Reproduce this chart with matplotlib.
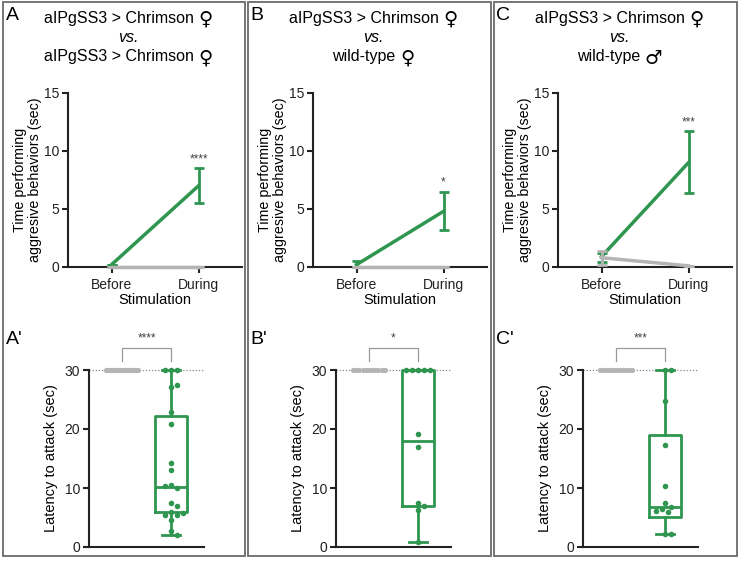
import matplotlib
matplotlib.use("Agg")
import matplotlib.pyplot as plt
import numpy as np
from matplotlib.patches import Rectangle

plt.rcParams['font.family'] = ['Liberation Sans', 'DejaVu Sans']

GREEN = '#2f9650'
GRAY = '#b4b4b4'
AXC = '#222222'

W, H = 741, 561

letters = ['A', 'B', 'C']
title_top = ('aIPgSS3 > Chrimson ', '\u2640')
title_bottom = [('aIPgSS3 > Chrimson ', '\u2640'), ('wild-type ', '\u2640'), ('wild-type ', '\u2642')]
conditions = ['Before', 'During']

# top row: mean time (sec) and error bar ends
chr_mean = [[0.2, 7.0], [0.2, 4.8], [0.9, 9.0]]
chr_lo = [[0.2, 5.5], [0.0, 3.2], [0.4, 6.4]]
chr_hi = [[0.2, 8.5], [0.5, 6.5], [1.2, 11.7]]
ctl_mean = [[0.0, 0.0], [0.0, 0.0], [0.8, 0.1]]
ctl_lo = [[0.0, 0.0], [0.0, 0.0], [0.2, 0.1]]
ctl_hi = [[0.0, 0.0], [0.0, 0.0], [1.4, 0.1]]
top_stars = ['****', '*', '***']

# bottom row: latency to attack (sec)
before_latency = [[30] * 21, [30] * 11, [30] * 12]
during_latency = [
    [30, 30, 30, 27.2, 27.5, 22.8, 20.8, 14.3, 13.1, 10.5, 10.0, 10.4,
     7.5, 7.0, 6.0, 5.5, 5.5, 5.7, 4.6, 2.7, 2.0],
    [30, 30, 30, 30, 30, 19.1, 17.0, 7.4, 7.0, 6.2, 0.9],
    [30, 30, 24.7, 17.3, 10.4, 7.4, 6.8, 6.4, 6.1, 5.9, 2.2, 2.2],
]
box_q1 = [6.0, 7.0, 5.1]
box_med = [10.2, 18.0, 6.8]
box_q3 = [22.2, 30.0, 19.0]
box_lo = [2.0, 0.9, 2.2]
box_hi = [30, 30, 30]
bottom_stars = ['****', '*', '***']


def swarm(vals, xs=49.0, ys=5.9, d=6.0):
    placed = []
    offs = []
    cands = [0]
    for i in range(1, 40):
        cands += [i, -i]
    for v in vals:
        for c in cands:
            x = c * 0.5 * d
            if all((x - px) ** 2 + ((v - py) * ys) ** 2 >= d * d for px, py in placed):
                break
        placed.append((x, v))
        offs.append(x / xs)
    return np.array(offs)


def add_ax(fig, left, top, right, bottom):
    return fig.add_axes([left / W, 1 - bottom / H, (right - left) / W, (bottom - top) / H])


def style(ax):
    for s in ['top', 'right']:
        ax.spines[s].set_visible(False)
    for s in ['left', 'bottom']:
        ax.spines[s].set_color(AXC)
        ax.spines[s].set_linewidth(1.5)
    ax.tick_params(colors=AXC, width=1.5, length=4, labelsize=10, pad=2.5)


def title_line(fig, renderer, cx, y, parts):
    # text plus a larger sex symbol, centred together at cx
    t1 = fig.text(0, 1 - y / H, parts[0], ha='left', va='center', fontsize=11.5)
    t2 = fig.text(0, 1 - y / H, parts[1], ha='left', va='center', fontsize=14,
                  family='DejaVu Sans')
    w1 = t1.get_window_extent(renderer).width
    w2 = t2.get_window_extent(renderer).width
    x0 = cx - (w1 + w2) / 2
    t1.set_x(x0 / W)
    t2.set_x((x0 + w1) / W)
    t2.set_y(1 - (y + 1) / H)


fig = plt.figure(figsize=(W / 100, H / 100), dpi=100)
renderer = fig.canvas.get_renderer()

frames = [(3, 245), (248, 491), (494, 737)]
for i in range(3):
    l, r = frames[i]
    fig.add_artist(Rectangle((l / W, 1 - 556 / H), (r - l) / W, 554 / H,
                             transform=fig.transFigure, fill=False,
                             ec='#6a6a6a', lw=1.3))
    cx = (l + r) / 2 + 4
    title_line(fig, renderer, cx, 18, title_top)
    fig.text(cx / W, 1 - 38 / H, 'vs.', ha='center', va='center', fontsize=11.5, style='italic')
    title_line(fig, renderer, cx, 57, title_bottom[i])
    fig.text((l + 9) / W, 1 - 15 / H, letters[i], ha='center', va='center', fontsize=14)
    fig.text((l + 11) / W, 1 - 339 / H, letters[i] + "'", ha='center', va='center', fontsize=14)

    # top: time performing aggressive behaviours
    off = 245 * i
    ax = add_ax(fig, 68 + off, 93, 242 + off, 267)
    style(ax)
    x = np.arange(2)
    m = np.array(chr_mean[i])
    ax.errorbar(x, m, yerr=[m - np.array(chr_lo[i]), np.array(chr_hi[i]) - m],
                color=GREEN, lw=2.5, elinewidth=2, capsize=3.5, capthick=2,
                clip_on=False, zorder=3)
    m2 = np.array(ctl_mean[i])
    ax.errorbar(x, m2, yerr=[m2 - np.array(ctl_lo[i]), np.array(ctl_hi[i]) - m2],
                color=GRAY, lw=2.5, elinewidth=2, capsize=3.5, capthick=2,
                clip_on=False, zorder=4)
    ax.text(1, chr_hi[i][1] + 0.8, top_stars[i], ha='center', va='center',
            fontsize=8.5, color='#444444')
    ax.set_xlim(-0.5, 1.5)
    ax.set_ylim(0, 15)
    ax.set_yticks([0, 5, 10, 15])
    ax.set_xticks(x)
    ax.set_xticklabels(conditions)
    ax.tick_params(axis='x', pad=4)
    ax.set_xlabel('Stimulation', fontsize=10.5, labelpad=1)
    ax.set_ylabel('Time performing\naggresive behaviors (sec)', fontsize=10.3,
                  linespacing=1.1)
    ax.yaxis.set_label_coords(-0.15, 0.5)

    # bottom: latency to attack
    off = 247 * i
    bx = add_ax(fig, 89 + off, 370, 204 + off, 547)
    style(bx)
    bx.axhline(30, color='#888888', ls=(0, (1, 1.5)), lw=0.9, zorder=1)
    bx.bxp([dict(med=box_med[i], q1=box_q1[i], q3=box_q3[i],
                 whislo=box_lo[i], whishi=box_hi[i])],
           positions=[1], widths=0.65, capwidths=[0.37], showfliers=False,
           boxprops=dict(color=GREEN, lw=2),
           medianprops=dict(color=GREEN, lw=2),
           whiskerprops=dict(color=GREEN, lw=2),
           capprops=dict(color=GREEN, lw=2), manage_ticks=False)
    for art in bx.lines:
        art.set_clip_on(False)
    g = np.array(before_latency[i])
    bx.scatter(np.linspace(-0.32, 0.32, len(g)), g, s=14, color=GRAY,
               zorder=3, clip_on=False, lw=0)
    d = np.array(during_latency[i])
    bx.scatter(1 + swarm(d), d, s=16, color=GREEN, zorder=3, clip_on=False, lw=0)
    bx.plot([0, 0, 1, 1], [31.6, 33.7, 33.7, 31.6], color='#999999', lw=0.9,
            clip_on=False)
    bx.text(0.5, 34.3, bottom_stars[i], ha='center', va='bottom', fontsize=8.5,
            color='#444444')
    bx.set_xlim(-0.67, 1.67)
    bx.set_ylim(0, 30)
    bx.set_yticks([0, 10, 20, 30])
    bx.set_xticks([])
    bx.set_ylabel('Latency to attack (sec)', fontsize=10.5)
    bx.yaxis.set_label_coords(-0.27, 0.5)

fig.savefig('out.png', dpi=100)
